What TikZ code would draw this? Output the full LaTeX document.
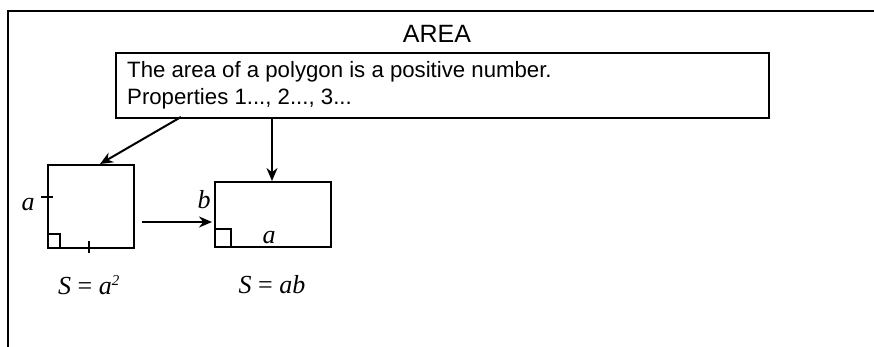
\documentclass[tikz,border=0pt]{standalone}
\usepackage{fontspec}
\setmainfont{Liberation Sans}
\newfontfamily\mathserif{Liberation Serif}
\usetikzlibrary{arrows.meta}
\begin{document}
\begin{tikzpicture}[x=1pt,y=-1pt,
  frame/.style={line width=2.2pt},
  figbox/.style={draw,line width=2.4pt,inner sep=0pt,anchor=north west},
  conn/.style={line width=2pt,-{Stealth[length=13pt,width=11pt]}},
  tickline/.style={line width=2pt},
  lbl/.style={font=\mathserif\itshape\fontsize{26}{30}\selectfont,inner sep=0pt}]
\useasboundingbox (0,0) rectangle (874,347);
% outer frame (open on right and bottom)
\draw[frame] (874,11) -- (8,11) -- (8,347);
\node (title) at (437,34) {\fontsize{25}{30}\selectfont AREA};
\node[figbox,minimum width=653pt,minimum height=65pt] (box) at (115,52) {};
\node[anchor=west,inner sep=0pt,align=left,font=\fontsize{22.2}{27}\selectfont] (txt) at (127,85)
  {The area of a polygon is a positive number.\\Properties 1..., 2..., 3...};
% square
\node[figbox,minimum width=86pt,minimum height=83pt] (sq) at (47,164) {};
\draw[tickline] (47,234) -- (60,234) -- (60,247);
\draw[tickline] (41,197) -- (53,197);
\draw[tickline] (89,241) -- (89,253);
\node[lbl] (la) at (28,205) {a};
% rectangle
\node[figbox,minimum width=116pt,minimum height=65pt] (rc) at (214,181) {};
\draw[tickline] (214,229) -- (231,229) -- (231,246);
\node[lbl] (lb) at (204,200) {b};
\node[lbl] (la2) at (269,238) {a};
% formulas
\node[lbl] (f1) at (89,285) {S {\upshape =} a\textsuperscript{\fontsize{15}{15}\selectfont 2}};
\node[lbl] (f2) at (272,285) {S {\upshape =} ab};
% connectors
\coordinate (s1) at (181,117);
\coordinate (t1) at (100,164);
\coordinate (s2) at (272,117);
\coordinate (t2) at (272,181);
\coordinate (s3) at (142,222);
\coordinate (t3) at (212,222);
\draw[conn] (s1) -- (t1);
\draw[conn] (s2) -- (t2);
\draw[conn] (s3) -- (t3);
\end{tikzpicture}
\end{document}
